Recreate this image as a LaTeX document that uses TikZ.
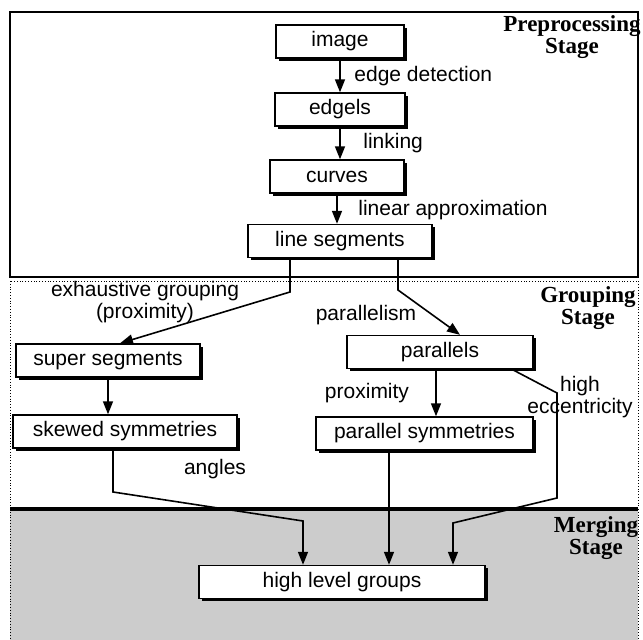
\documentclass[tikz,border=0pt]{standalone}
\usepackage{fontspec}
\setmainfont{Liberation Sans}
\newfontfamily\stagefont{Liberation Serif}
\usetikzlibrary{arrows.meta,positioning,shadows}

\begin{document}
\begin{tikzpicture}
[x=0.5pt,y=-0.5pt,
 >={Triangle[length=6.5pt,width=5pt]},
 every node/.style={font=\fontsize{10.5}{12}\selectfont},
 b/.style={draw,fill=white,line width=0.7pt,inner sep=0pt,minimum height=16.5pt,
   drop shadow={shadow xshift=1.4pt,shadow yshift=-1.4pt,fill=black,opacity=1}},
 lbl/.style={inner sep=0pt,anchor=west},
 st/.style={font=\stagefont\bfseries\fontsize{11.5}{9.5}\selectfont,align=center,inner sep=0pt},
 c/.style={->,line width=0.8pt}]
\useasboundingbox (0,0) rectangle (643,640);
% stages
\fill[black!20] (10,509) rectangle (638,640);
\draw[line width=0.6pt] (10,12) rectangle (638,277);
\draw[densely dotted] (10,281) rectangle (638,508);
\draw[densely dotted] (10,509) -- (10,640) (638,509) -- (638,640);
\draw[line width=1.6pt] (10,509) -- (638,509);
\node[st] (pre) at (572,37) {Preprocessing\\Stage};
\node[st] (grp) at (588,308) {Grouping\\Stage};
\node[st] (mrg) at (596,538) {Merging\\Stage};
% boxes
\node[b,minimum width=64pt] (image) at (340,41.5) {image};
\node[b,minimum width=65pt] (edgels) at (340,109.5) {edgels};
\node[b,minimum width=67pt] (curves) at (337,176.5) {curves};
\node[b,minimum width=92pt] (lineseg) at (340,241) {line segments};
\node[b,minimum width=92pt] (superseg) at (108,360.5) {super segments};
\node[b,minimum width=112pt] (skewed) at (125,431.5) {skewed symmetries};
\node[b,minimum width=93pt] (parallels) at (440,352) {parallels};
\node[b,minimum width=108.5pt] (parsym) at (424.5,433.5) {parallel symmetries};
\node[b,minimum width=143pt] (high) at (342,582) {high level groups};
% labels
\node[lbl] (ed) at (354,76) {edge detection};
\node[lbl] (lk) at (363,143) {linking};
\node[lbl] (la) at (358,210) {linear approximation};
\node[align=center,inner sep=0pt,font=\fontsize{10.5}{8}\selectfont] (eg) at (145,302) {exhaustive grouping\\(proximity)};
\node[inner sep=0pt] (pl) at (366,315) {parallelism};
\node[inner sep=0pt] (px) at (367,393) {proximity};
\node[align=center,inner sep=0pt,font=\fontsize{10.5}{7}\selectfont] (he) at (580,397) {high\\eccentricity};
\node[inner sep=0pt] (an) at (215,469) {angles};
% bends
\coordinate (k1) at (290,292);
\coordinate (k2) at (398,290);
\coordinate (k3) at (113,492);
\coordinate (k4) at (303,521);
\coordinate (k5) at (389,500);
\coordinate (k6) at (557,393);
\coordinate (k7) at (557,498);
\coordinate (k8) at (453,523);
% arrows
\draw[c] (image) -- (edgels);
\draw[c] (edgels) -- (edgels |- curves.north);
\draw[c] (curves) -- (curves |- lineseg.north);
\draw[c] (lineseg.south -| k1) -- (k1) -- ([xshift=6pt]superseg.north);
\draw[c] (lineseg.south -| k2) -- (k2) -- ([xshift=10pt]parallels.north);
\draw[c] (superseg) -- (superseg |- skewed.north);
\draw[c] ([xshift=-2pt]parallels.south) -- ([xshift=-2pt]parallels.south |- parsym.north);
\draw[c] (skewed.south -| k3) -- (k3) -- (k4) -- (high.north -| k4);
\draw[c] (parsym.south -| k5) -- (high.north -| k5);
\draw[c] ([xshift=-11pt]parallels.south east) -- (k6) -- (k7) -- (k8) -- (high.north -| k8);
\end{tikzpicture}
\end{document}
